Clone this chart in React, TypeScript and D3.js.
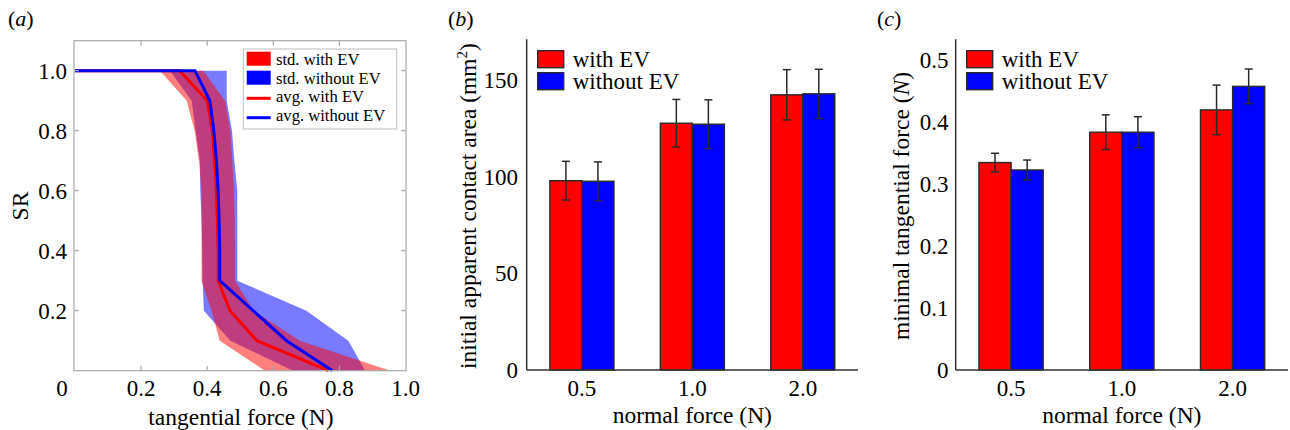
import React from 'react';
import * as d3 from 'd3';

// ---------- Panel (a) data ----------
const srLevels = [1.0, 0.9, 0.8, 0.7, 0.6, 0.5, 0.4, 0.3, 0.2, 0.1, 0.0];
const avgWithEV = [0.317, 0.4, 0.415, 0.422, 0.428, 0.431, 0.433, 0.433, 0.469, 0.55, 0.767];
const avgWithoutEV = [0.363, 0.408, 0.42, 0.428, 0.433, 0.436, 0.438, 0.438, 0.539, 0.64, 0.779];
const stdWithLow = [0.257, 0.338, 0.362, 0.375, 0.383, 0.383, 0.383, 0.383, 0.413, 0.438, 0.575];
const stdWithHigh = [0.388, 0.454, 0.47, 0.476, 0.481, 0.483, 0.484, 0.484, 0.54, 0.68, 0.954];
const stdWithoutLow = [0.287, 0.353, 0.365, 0.378, 0.379, 0.383, 0.385, 0.386, 0.39, 0.47, 0.66];
const stdWithoutHigh = [0.459, 0.459, 0.475, 0.482, 0.491, 0.491, 0.491, 0.491, 0.7, 0.827, 0.878];
const lineStartForce = 0;
const aXTicks = [0, 0.2, 0.4, 0.6, 0.8, 1.0];
const aXTickLabels = ['0', '0.2', '0.4', '0.6', '0.8', '1.0'];
const aYTicks = [0.2, 0.4, 0.6, 0.8, 1.0];
const aYTickLabels = ['0.2', '0.4', '0.6', '0.8', '1.0'];
const aLegendLabels = ['std. with EV', 'std. without EV', 'avg. with EV', 'avg. without EV'];

// ---------- Panels (b), (c) data ----------
const normalForces = ['0.5', '1.0', '2.0'];
const areaWithEV = [97.9, 127.6, 142.3];
const areaWithEVErr = [10, 12.3, 13];
const areaWithoutEV = [97.6, 127.1, 142.8];
const areaWithoutEVErr = [10, 12.6, 12.7];
const bTicks = [0, 50, 100, 150];
const bTickLabels = ['0', '50', '100', '150'];

const forceWithEV = [0.335, 0.384, 0.42];
const forceWithEVErr = [0.015, 0.028, 0.04];
const forceWithoutEV = [0.323, 0.384, 0.458];
const forceWithoutEVErr = [0.016, 0.025, 0.028];
const cTicks = [0, 0.1, 0.2, 0.3, 0.4, 0.5];
const cTickLabels = ['0', '0.1', '0.2', '0.3', '0.4', '0.5'];

const barLegend = ['with EV', 'without EV'];

const FONT = '"Liberation Serif", "DejaVu Serif", serif';
const RED = '#ff0000';
const BLUE = '#0000ff';
const DARK = '#2a2a2a';

function PanelA() {
  const x = d3.scaleLinear().domain([0, 1]).range([75, 405.5]);
  const y = d3.scaleLinear().domain([0, 1.1]).range([370.7, 40.7]);
  const frameL = 74, frameR = 406, frameT = 40.7, frameB = 370.7;

  const band = (lo: number[], hi: number[]) =>
    d3
      .area<number>()
      .x0((_, i) => x(lo[i]))
      .x1((_, i) => x(hi[i]))
      .y((d) => y(d))(srLevels) || '';

  const linePath = (avg: number[]) => {
    const pts: [number, number][] = [[lineStartForce, srLevels[0]]].concat(
      srLevels.map((s, i) => [avg[i], s] as [number, number])
    ) as [number, number][];
    return (
      d3
        .line<[number, number]>()
        .x((d) => x(d[0]))
        .y((d) => y(d[1]))(pts) || ''
    );
  };

  const tickLen = 5;
  const gray = '#a8a8a8';
  return (
    <g fontFamily={FONT}>
      <text x={8} y={26} fontSize={22} fontStyle="normal">
        (<tspan fontStyle="italic">a</tspan>)
      </text>
      <path d={band(stdWithoutLow, stdWithoutHigh)} fill={BLUE} fillOpacity={0.52} />
      <path d={band(stdWithLow, stdWithHigh)} fill={RED} fillOpacity={0.5} />
      <path d={linePath(avgWithEV)} fill="none" stroke={RED} strokeWidth={3} />
      <path d={linePath(avgWithoutEV)} fill="none" stroke={BLUE} strokeWidth={3} />
      {/* frame */}
      <rect x={frameL} y={frameT} width={frameR - frameL} height={frameB - frameT} fill="none" stroke={gray} strokeWidth={1.2} />
      {aXTicks.slice(1, 5).map((t) => (
        <g key={'xt' + t}>
          <line x1={x(t)} x2={x(t)} y1={frameB} y2={frameB - tickLen} stroke={gray} strokeWidth={1.2} />
          <line x1={x(t)} x2={x(t)} y1={frameT} y2={frameT + tickLen} stroke={gray} strokeWidth={1.2} />
        </g>
      ))}
      {aYTicks.map((t) => (
        <g key={'yt' + t}>
          <line x1={frameL} x2={frameL + tickLen} y1={y(t)} y2={y(t)} stroke={gray} strokeWidth={1.2} />
          <line x1={frameR} x2={frameR - tickLen} y1={y(t)} y2={y(t)} stroke={gray} strokeWidth={1.2} />
        </g>
      ))}
      {aXTicks.map((t, i) => (
        <text key={'xl' + t} x={i === 0 ? x(t) - 13 : x(t)} y={396} fontSize={23} textAnchor="middle">
          {aXTickLabels[i]}
        </text>
      ))}
      {aYTicks.map((t, i) => (
        <text key={'yl' + t} x={67} y={y(t) + 8} fontSize={23} textAnchor="end">
          {aYTickLabels[i]}
        </text>
      ))}
      <text x={241} y={425} fontSize={23.5} textAnchor="middle">
        tangential force (N)
      </text>
      <text transform="translate(28,206) rotate(-90)" fontSize={23.5} textAnchor="middle">
        SR
      </text>
      {/* legend */}
      <rect x={243.3} y={49} width={153.4} height={80} fill="#fff" stroke="#c8c8c8" strokeWidth={1.2} />
      <rect x={246.7} y={51.7} width={24} height={14} fill={RED} />
      <rect x={246.7} y={70.7} width={24} height={14} fill={BLUE} />
      <line x1={246.7} x2={270.7} y1={98.3} y2={98.3} stroke={RED} strokeWidth={3} />
      <line x1={246.7} x2={270.7} y1={117.7} y2={117.7} stroke={BLUE} strokeWidth={3} />
      {aLegendLabels.map((l, i) => (
        <text key={l} x={276} y={[64.5, 83.5, 102, 121.3][i]} fontSize={16.6}>
          {l}
        </text>
      ))}
    </g>
  );
}

type BarProps = {
  label: string;
  x0: number;
  x1: number;
  yMax: number;
  withVals: number[];
  withErr: number[];
  withoutVals: number[];
  withoutErr: number[];
  ticks: number[];
  tickLabels: string[];
  tickLabelX: number;
  title: React.ReactNode;
  titleX: number;
  labelX: number;
};

function BarPanel(p: BarProps) {
  const x = d3.scaleBand<string>().domain(normalForces).range([p.x0, p.x1]).padding(0);
  const y = d3.scaleLinear().domain([0, p.yMax]).range([370, 39.3]);
  const bw = x.step() * 0.29;
  const cap = 4;
  const series = [
    { vals: p.withVals, errs: p.withErr, color: RED, off: -bw },
    { vals: p.withoutVals, errs: p.withoutErr, color: BLUE, off: 0 },
  ];
  return (
    <g fontFamily={FONT}>
      <text x={p.labelX} y={26} fontSize={22}>
        (<tspan fontStyle="italic">{p.label}</tspan>)
      </text>
      {normalForces.map((c, i) => {
        const cx = (x(c) as number) + x.bandwidth() / 2;
        return (
          <g key={c}>
            {series.map((s, j) => (
              <rect
                key={j}
                x={cx + s.off}
                y={y(s.vals[i])}
                width={bw}
                height={y(0) - y(s.vals[i])}
                fill={s.color}
                stroke={DARK}
                strokeWidth={1.4}
              />
            ))}
            {series.map((s, j) => {
              const ex = cx + s.off + bw / 2;
              const hi = y(s.vals[i] + s.errs[i]);
              const lo = y(s.vals[i] - s.errs[i]);
              return (
                <g key={'e' + j} stroke={DARK} strokeWidth={1.5}>
                  <line x1={ex} x2={ex} y1={hi} y2={lo} />
                  <line x1={ex - cap} x2={ex + cap} y1={hi} y2={hi} />
                  <line x1={ex - cap} x2={ex + cap} y1={lo} y2={lo} />
                </g>
              );
            })}
            <text x={cx} y={396} fontSize={23} textAnchor="middle">
              {c}
            </text>
          </g>
        );
      })}
      <line x1={p.x0} x2={p.x0} y1={39.3} y2={370} stroke="#333" strokeWidth={1.5} />
      <line x1={p.x0} x2={p.x1} y1={370} y2={370} stroke="#333" strokeWidth={1.5} />
      {p.ticks.map((t, i) => (
        <text key={t} x={p.tickLabelX} y={y(t) + 8} fontSize={23} textAnchor="end">
          {p.tickLabels[i]}
        </text>
      ))}
      <text x={(p.x0 + p.x1) / 2} y={423} fontSize={23.5} textAnchor="middle">
        normal force (N)
      </text>
      <text transform={`translate(${p.titleX},206) rotate(-90)`} fontSize={23.5} textAnchor="middle">
        {p.title}
      </text>
      {/* legend */}
      <rect x={p.x0 + 11} y={50.7} width={26} height={17} fill={RED} stroke={DARK} strokeWidth={1.4} />
      <rect x={p.x0 + 11} y={72.7} width={26} height={17} fill={BLUE} stroke={DARK} strokeWidth={1.4} />
      {barLegend.map((l, i) => (
        <text key={l} x={p.x0 + 46} y={[67, 89][i]} fontSize={23}>
          {l}
        </text>
      ))}
    </g>
  );
}

export default function App() {
  return (
    <svg
      width={1290}
      height={430}
      style={{ position: 'absolute', left: 0, top: 0, display: 'block', background: '#fff' }}
    >
      <rect width={1290} height={430} fill="#fff" />
      <PanelA />
      <BarPanel
        label="b"
        x0={526.7}
        x1={858}
        yMax={171}
        withVals={areaWithEV}
        withErr={areaWithEVErr}
        withoutVals={areaWithoutEV}
        withoutErr={areaWithoutEVErr}
        ticks={bTicks}
        tickLabels={bTickLabels}
        tickLabelX={518}
        title={
          <>
            initial apparent contact area (mm<tspan dy={-9} fontSize={15}>2</tspan>
            <tspan dy={9}>)</tspan>
          </>
        }
        titleX={476}
        labelX={448}
      />
      <BarPanel
        label="c"
        x0={955.7}
        x1={1288}
        yMax={0.534}
        withVals={forceWithEV}
        withErr={forceWithEVErr}
        withoutVals={forceWithoutEV}
        withoutErr={forceWithoutEVErr}
        ticks={cTicks}
        tickLabels={cTickLabels}
        tickLabelX={948.5}
        title={
          <>
            minimal tangential force (<tspan fontStyle="italic">N</tspan>)
          </>
        }
        titleX={909}
        labelX={877}
      />
    </svg>
  );
}
